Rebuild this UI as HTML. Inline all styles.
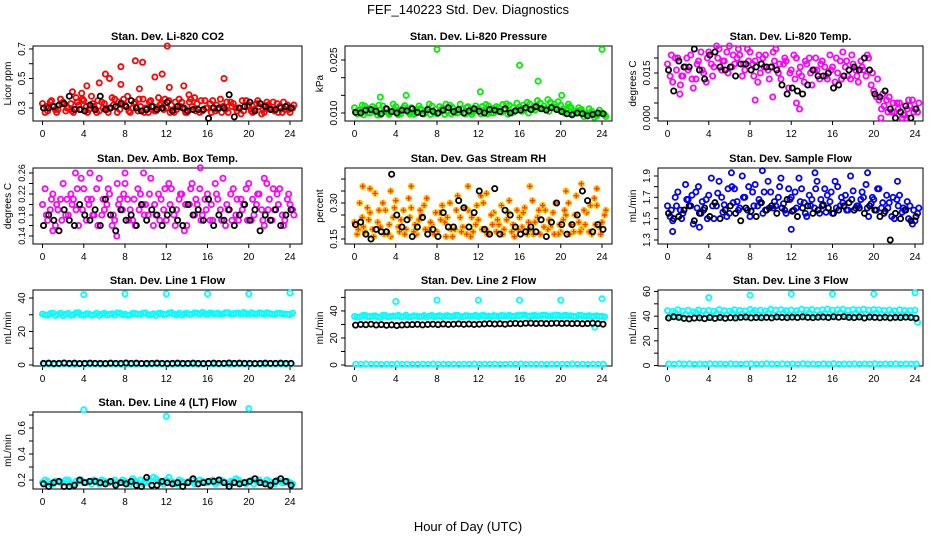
<!DOCTYPE html>
<html><head><meta charset="utf-8"><title>FEF_140223 Std. Dev. Diagnostics</title>
<style>
html,body{margin:0;padding:0;background:#fff;}
svg{display:block;font-family:"Liberation Sans",sans-serif;}
</style></head>
<body>
<svg id="chart" width="936" height="540" viewBox="0 0 936 540" xmlns="http://www.w3.org/2000/svg">
<text x="468" y="14" text-anchor="middle" font-size="13">FEF_140223  Std. Dev. Diagnostics</text>
<text x="468" y="531" text-anchor="middle" font-size="13">Hour of Day (UTC)</text>
</svg>
<script>
const hrs=[0,0.5,1,1.5,2,2.5,3,3.5,4,4.5,5,5.5,6,6.5,7,7.5,8,8.5,9,9.5,10,10.5,11,11.5,12,12.5,13,13.5,14,14.5,15,15.5,16,16.5,17,17.5,18,18.5,19,19.5,20,20.5,21,21.5,22,22.5,23,23.5,24];
const xTicks=[0,4,8,12,16,20,24];
// CO2
const co2A=[0.33,0.28,0.31,0.29,0.34,0.30,0.27,0.32,0.35,0.29,0.31,0.28,0.33,0.30,0.36,0.29,0.32,0.27,0.34,0.31,0.30,0.35,0.28,0.33,0.30,0.32,0.29,0.34,0.27,0.31,0.33,0.28,0.30,0.35,0.29,0.31,0.27,0.33,0.30,0.28,0.32,0.29,0.31,0.27,0.30,0.28,0.31,0.29,0.27];
const co2B=[0.27,0.34,0.29,0.36,0.28,0.33,0.37,0.29,0.31,0.38,0.27,0.34,0.29,0.37,0.27,0.33,0.38,0.30,0.28,0.36,0.27,0.31,0.37,0.29,0.35,0.27,0.36,0.30,0.34,0.37,0.27,0.35,0.33,0.28,0.36,0.29,0.34,0.30,0.26,0.35,0.28,0.33,0.26,0.34,0.29,0.33,0.27,0.32,0.30];
const co2C=[0.31,0.35,0.27,0.33,0.30,0.28,0.34,0.36,0.27,0.33,0.35,0.30,0.27,0.32,0.34,0.36,0.28,0.33,0.36,0.27,0.34,0.28,0.32,0.36,0.27,0.34,0.31,0.27,0.36,0.28,0.35,0.30,0.27,0.32,0.27,0.34,0.31,0.28,0.35,0.31,0.27,0.35,0.29,0.32,0.34,0.27,0.34,0.29,0.32];
const co2OutX=[4.3,5.5,6.1,6.5,7.6,7.6,9.0,9.4,9.7,10.9,11.6,12.1,12.3,13.7,17.6,2.9,3.8,14.2];
const co2OutY=[0.45,0.47,0.53,0.50,0.58,0.46,0.62,0.43,0.61,0.51,0.53,0.72,0.44,0.45,0.50,0.41,0.40,0.39];
const co2K=[0.30,0.30,0.31,0.32,0.33,0.38,0.29,0.29,0.28,0.32,0.29,0.38,0.29,0.30,0.31,0.33,0.31,0.35,0.30,0.28,0.29,0.31,0.29,0.30,0.34,0.28,0.31,0.30,0.28,0.29,0.29,0.29,0.23,0.30,0.30,0.30,0.39,0.24,0.30,0.31,0.34,0.28,0.33,0.31,0.29,0.29,0.30,0.31,0.30];
// Pressure
const prsA=[0.0115,0.0105,0.0120,0.0100,0.0110,0.0095,0.0112,0.0102,0.0118,0.0098,0.0108,0.0115,0.0100,0.0110,0.0105,0.0120,0.0098,0.0112,0.0104,0.0116,0.0100,0.0110,0.0118,0.0103,0.0112,0.0107,0.0120,0.0100,0.0115,0.0108,0.0122,0.0104,0.0117,0.0110,0.0125,0.0108,0.0128,0.0112,0.0130,0.0115,0.0122,0.0108,0.0115,0.0100,0.0110,0.0095,0.0105,0.0092,0.0100];
const prsB=[0.0098,0.0122,0.0100,0.0118,0.0094,0.0120,0.0100,0.0125,0.0095,0.0115,0.0102,0.0096,0.0120,0.0098,0.0125,0.0100,0.0118,0.0096,0.0122,0.0100,0.0125,0.0097,0.0102,0.0120,0.0098,0.0124,0.0100,0.0118,0.0102,0.0126,0.0100,0.0128,0.0105,0.0130,0.0110,0.0135,0.0112,0.0138,0.0118,0.0132,0.0112,0.0125,0.0098,0.0115,0.0090,0.0112,0.0088,0.0108,0.0095];
const prsC=[0.0108,0.0095,0.0112,0.0105,0.0122,0.0104,0.0096,0.0110,0.0106,0.0121,0.0097,0.0108,0.0112,0.0104,0.0096,0.0110,0.0108,0.0125,0.0098,0.0108,0.0112,0.0115,0.0096,0.0110,0.0118,0.0098,0.0112,0.0106,0.0124,0.0097,0.0115,0.0110,0.0122,0.0100,0.0118,0.0115,0.0120,0.0105,0.0125,0.0108,0.0100,0.0118,0.0105,0.0108,0.0098,0.0100,0.0095,0.0100,0.0090];
const prsOutX=[8.0,24.0,16.0,17.8,12.2,2.5,5.0,20.1];
const prsOutY=[0.0280,0.0280,0.0235,0.0190,0.0160,0.0145,0.0150,0.0150];
const prsK=[0.0102,0.0100,0.0108,0.0110,0.0105,0.0098,0.0112,0.0104,0.0100,0.0108,0.0106,0.0112,0.0102,0.0098,0.0110,0.0105,0.0100,0.0108,0.0115,0.0104,0.0110,0.0100,0.0106,0.0112,0.0105,0.0100,0.0110,0.0108,0.0104,0.0112,0.0100,0.0106,0.0108,0.0115,0.0110,0.0118,0.0112,0.0108,0.0115,0.0110,0.0104,0.0098,0.0095,0.0100,0.0098,0.0092,0.0096,0.0100,0.0098];
// Li-820 Temp
const tmpA=[0.018,0.012,0.020,0.014,0.016,0.010,0.019,0.015,0.022,0.017,0.023,0.019,0.024,0.018,0.021,0.016,0.022,0.019,0.015,0.021,0.017,0.023,0.013,0.019,0.016,0.020,0.014,0.018,0.011,0.016,0.019,0.013,0.017,0.015,0.022,0.014,0.018,0.012,0.016,0.020,0.009,0.006,0.004,0.007,0.002,0.005,0.001,0.004,0.003];
const tmpB=[0.014,0.020,0.011,0.017,0.021,0.013,0.022,0.012,0.018,0.024,0.016,0.022,0.017,0.020,0.014,0.023,0.018,0.012,0.020,0.016,0.022,0.015,0.018,0.010,0.021,0.015,0.012,0.020,0.016,0.013,0.017,0.021,0.012,0.019,0.017,0.013,0.016,0.019,0.014,0.011,0.007,0.003,0.006,0.002,0.005,0.000,0.003,0.006,0.002];
const tmpC=[0.021,0.016,0.014,0.020,0.013,0.018,0.016,0.020,0.014,0.020,0.019,0.015,0.021,0.023,0.018,0.019,0.014,0.021,0.017,0.013,0.019,0.018,0.020,0.015,0.013,0.017,0.019,0.015,0.020,0.018,0.014,0.016,0.020,0.013,0.019,0.021,0.014,0.017,0.021,0.015,0.013,0.008,0.002,0.005,0.003,0.001,0.006,0.002,0.005];
const tmpOutX=[1.2,8.5,10.2,12.5,12.8,20.7,23.2];
const tmpOutY=[0.008,0.006,0.007,0.005,0.003,0.000,0.000];
const tmpK=[0.016,0.009,0.019,0.017,0.017,0.023,0.016,0.013,0.021,0.022,0.017,0.016,0.017,0.014,0.018,0.018,0.016,0.017,0.018,0.017,0.017,0.016,0.011,0.008,0.010,0.009,0.008,0.011,0.016,0.014,0.014,0.015,0.010,0.011,0.014,0.016,0.017,0.016,0.020,0.016,0.008,0.007,0.009,0.003,0.000,0.002,0.004,0.000,0.003];
// Amb box temp
const ambA=[0.20,0.17,0.22,0.19,0.24,0.18,0.21,0.16,0.23,0.20,0.18,0.25,0.19,0.22,0.17,0.21,0.24,0.19,0.16,0.22,0.20,0.25,0.18,0.21,0.17,0.23,0.19,0.22,0.16,0.24,0.20,0.18,0.22,0.17,0.21,0.25,0.19,0.23,0.17,0.20,0.24,0.18,0.22,0.16,0.21,0.19,0.23,0.17,0.20];
const ambB=[0.23,0.19,0.16,0.21,0.18,0.22,0.19,0.25,0.17,0.21,0.23,0.18,0.20,0.16,0.24,0.19,0.21,0.17,0.23,0.20,0.18,0.16,0.22,0.19,0.24,0.18,0.21,0.15,0.20,0.18,0.23,0.21,0.17,0.24,0.19,0.16,0.22,0.18,0.21,0.23,0.17,0.20,0.19,0.24,0.17,0.22,0.18,0.21,0.19];
const ambC=[0.18,0.21,0.20,0.17,0.21,0.20,0.23,0.19,0.21,0.18,0.16,0.21,0.23,0.18,0.20,0.22,0.17,0.21,0.19,0.18,0.22,0.20,0.17,0.23,0.20,0.16,0.22,0.20,0.23,0.21,0.17,0.19,0.20,0.22,0.17,0.20,0.17,0.21,0.19,0.17,0.21,0.22,0.17,0.19,0.23,0.20,0.16,0.22,0.18];
const ambOutX=[4.6,8.0,9.8,15.3,7.2,1.0,21.5,3.2];
const ambOutY=[0.26,0.26,0.26,0.27,0.14,0.15,0.25,0.26];
const ambK=[0.16,0.18,0.17,0.15,0.19,0.17,0.16,0.20,0.18,0.17,0.19,0.16,0.21,0.18,0.15,0.19,0.17,0.18,0.16,0.20,0.17,0.19,0.18,0.16,0.18,0.19,0.17,0.16,0.20,0.18,0.19,0.17,0.21,0.16,0.18,0.17,0.19,0.16,0.18,0.20,0.17,0.19,0.15,0.18,0.17,0.19,0.16,0.18,0.19];
// Gas stream RH
const rhA=[0.22,0.30,0.18,0.26,0.34,0.20,0.27,0.16,0.31,0.23,0.19,0.28,0.17,0.25,0.32,0.21,0.18,0.29,0.24,0.16,0.33,0.20,0.27,0.18,0.23,0.30,0.17,0.26,0.21,0.19,0.31,0.16,0.24,0.28,0.19,0.22,0.17,0.27,0.20,0.30,0.18,0.25,0.21,0.33,0.19,0.26,0.17,0.29,0.22];
const rhB=[0.17,0.24,0.28,0.19,0.22,0.30,0.17,0.24,0.20,0.27,0.32,0.18,0.23,0.29,0.19,0.17,0.26,0.22,0.30,0.19,0.24,0.28,0.16,0.21,0.33,0.19,0.25,0.18,0.29,0.23,0.18,0.27,0.20,0.17,0.31,0.24,0.29,0.19,0.26,0.17,0.23,0.30,0.18,0.22,0.27,0.18,0.32,0.20,0.25];
const rhC=[0.19,0.20,0.23,0.16,0.27,0.17,0.21,0.28,0.18,0.17,0.24,0.21,0.27,0.19,0.22,0.26,0.23,0.16,0.19,0.27,0.18,0.17,0.24,0.29,0.19,0.17,0.21,0.23,0.17,0.26,0.21,0.19,0.26,0.22,0.17,0.27,0.20,0.23,0.17,0.21,0.27,0.17,0.25,0.18,0.21,0.29,0.21,0.17,0.27];
const rhOutX=[0.8,1.5,5.5,11.0,17.0,22.0,23.5,3.5,12.8,20.5];
const rhOutY=[0.37,0.36,0.37,0.37,0.37,0.38,0.36,0.35,0.34,0.35];
const rhK=[0.21,0.22,0.17,0.15,0.19,0.18,0.18,0.42,0.25,0.20,0.23,0.16,0.20,0.24,0.17,0.19,0.16,0.26,0.20,0.20,0.31,0.28,0.20,0.26,0.35,0.19,0.17,0.36,0.17,0.27,0.25,0.20,0.17,0.18,0.20,0.18,0.23,0.16,0.22,0.30,0.21,0.17,0.21,0.25,0.35,0.31,0.18,0.21,0.19];
// Sample flow
const sfA=[1.62,1.48,1.75,1.55,1.68,1.45,1.80,1.58,1.72,1.50,1.85,1.63,1.55,1.78,1.60,1.70,1.52,1.82,1.65,1.58,1.75,1.62,1.88,1.55,1.70,1.60,1.78,1.52,1.68,1.85,1.62,1.72,1.55,1.80,1.65,1.58,1.76,1.62,1.70,1.52,1.68,1.78,1.55,1.65,1.50,1.72,1.58,1.62,1.48];
const sfB=[1.52,1.70,1.58,1.82,1.62,1.75,1.55,1.68,1.88,1.62,1.70,1.52,1.80,1.66,1.90,1.58,1.75,1.62,1.55,1.85,1.60,1.70,1.64,1.78,1.58,1.88,1.65,1.72,1.60,1.55,1.78,1.66,1.85,1.62,1.72,1.90,1.60,1.68,1.82,1.64,1.58,1.60,1.72,1.52,1.68,1.56,1.66,1.45,1.55];
const sfC=[1.58,1.62,1.50,1.68,1.72,1.60,1.66,1.50,1.62,1.74,1.56,1.78,1.65,1.58,1.70,1.80,1.62,1.68,1.75,1.60,1.66,1.80,1.58,1.68,1.75,1.66,1.55,1.62,1.78,1.68,1.56,1.75,1.60,1.70,1.58,1.68,1.62,1.75,1.60,1.70,1.78,1.65,1.60,1.70,1.62,1.60,1.50,1.58,1.60];
const sfOutX=[0.5,6.2,9.2,14.3,19.4,22.3,12.0,3.1];
const sfOutY=[1.38,1.93,1.95,1.93,1.93,1.85,1.40,1.42];
const sfK=[1.55,1.50,1.52,1.58,1.62,1.48,1.55,1.60,1.52,1.65,1.50,1.58,1.62,1.55,1.48,1.60,1.57,1.52,1.65,1.58,1.62,1.55,1.60,1.68,1.57,1.52,1.60,1.62,1.55,1.58,1.63,1.60,1.55,1.58,1.62,1.65,1.58,1.60,1.55,1.62,1.58,1.52,1.57,1.30,1.55,1.50,1.58,1.48,1.52];
// Line flows
const l1A=[30.5,29.8,31.0,30.2,29.5,30.8,30.0,31.2,29.7,30.5,30.1,29.6,30.9,30.3,29.8,31.0,30.4,29.9,30.7,30.2,31.1,30.0,29.6,30.8,30.4,31.3,30.1,29.8,31.0,30.5,30.9,31.4,30.2,30.8,31.0,30.5,31.2,30.6,30.9,31.4,30.3,30.7,31.1,30.4,30.8,30.2,31.0,30.5,30.1];
const l1B=[29.9,30.7,29.6,30.9,30.3,29.7,31.1,29.9,30.6,29.8,30.9,30.4,29.9,30.6,31.1,30.0,29.8,30.9,30.3,31.0,29.9,30.6,30.8,30.1,31.0,30.3,30.9,30.6,30.2,31.2,30.4,30.7,31.1,30.5,30.3,31.3,30.4,31.0,30.6,30.7,31.2,30.5,30.9,31.2,30.4,30.9,30.6,30.3,31.0];
const l1Lo=[0.5,0.6,0.4,0.5,0.7,0.5,0.4,0.6,0.5,0.5,0.6,0.4,0.5,0.6,0.5,0.4,0.6,0.5,0.5,0.7,0.4,0.5,0.6,0.5,0.5,0.4,0.6,0.5,0.6,0.5,0.4,0.5,0.6,0.5,0.5,0.6,0.4,0.5,0.6,0.5,0.5,0.6,0.4,0.5,0.6,0.5,0.5,0.4,0.6];
const l1OutX=[4,8,12,16,20,24];
const l1OutY=[42,42.5,42.5,42.5,42.5,43];
const l1K=[1.0,1.1,0.9,1.0,1.2,1.0,1.1,0.9,1.0,1.1,1.0,1.0,0.9,1.1,1.0,1.0,1.2,1.0,1.1,0.9,1.0,1.0,1.1,1.0,0.9,1.0,1.1,1.0,1.0,1.1,1.0,0.9,1.0,1.1,1.0,1.0,1.2,1.0,1.1,1.0,1.0,0.9,1.0,1.1,1.0,1.0,1.1,1.0,1.0];
const l2A=[36.0,35.5,36.8,35.8,36.4,35.2,36.6,35.9,36.2,35.6,36.9,35.7,36.3,36.0,35.4,36.7,36.1,35.8,36.5,36.0,36.8,35.9,36.4,36.2,35.7,36.9,36.3,36.6,35.9,36.4,36.8,36.1,36.5,37.0,36.2,36.7,36.4,36.9,36.3,36.6,36.1,36.8,36.4,36.0,36.6,36.2,35.8,36.4,36.1];
const l2B=[35.4,36.5,35.9,36.2,35.6,36.8,35.5,36.3,36.7,36.0,35.5,36.4,35.8,36.6,36.2,35.7,36.5,36.3,35.9,36.6,35.8,36.5,36.0,36.8,36.4,36.1,35.9,36.2,36.7,36.3,36.0,36.6,36.9,36.3,36.5,36.1,36.8,36.2,36.5,36.9,36.5,36.3,36.0,36.7,36.3,36.5,36.2,36.0,35.6];
const l2Lo=[0.6,0.5,0.7,0.5,0.6,0.4,0.6,0.5,0.7,0.5,0.6,0.5,0.4,0.6,0.5,0.7,0.5,0.6,0.5,0.6,0.4,0.6,0.5,0.7,0.5,0.6,0.5,0.6,0.4,0.5,0.6,0.5,0.7,0.5,0.6,0.5,0.6,0.4,0.6,0.5,0.6,0.5,0.7,0.5,0.6,0.4,0.6,0.5,0.6];
const l2OutX=[4,8,12,16,20,24,23.3];
const l2OutY=[47,48,48,48,48,49,28];
const l2K=[29.5,30.0,29.8,30.2,29.6,29.9,29.4,29.7,29.2,29.6,29.8,29.9,30.1,29.7,30.0,30.2,29.9,30.3,30.0,30.2,30.4,30.1,30.3,30.0,30.2,30.4,30.6,30.3,30.5,30.2,30.6,30.8,30.5,30.9,31.0,30.7,30.9,30.6,30.8,31.0,30.7,30.9,30.6,30.8,30.5,30.7,30.9,30.6,30.2];
const l3A=[44.5,43.8,45.2,44.0,44.8,43.5,45.0,44.2,44.6,43.9,45.3,44.4,44.0,45.1,44.7,44.2,45.4,44.6,44.9,44.3,45.5,44.8,45.2,44.5,45.0,44.4,45.6,44.9,45.3,44.6,45.1,45.7,44.8,45.2,45.5,44.7,45.3,45.0,45.6,44.9,45.3,45.1,44.6,45.0,44.4,45.2,44.7,44.5,44.9];
const l3B=[40.0,42.5,39.6,41.5,40.8,42.8,40.4,41.8,39.8,42.2,40.5,41.2,42.6,40.1,41.9,40.7,42.9,41.3,40.2,42.4,40.9,41.6,42.7,40.6,41.4,42.1,40.8,42.5,41.0,40.6,42.3,41.7,40.9,42.8,41.2,40.5,42.4,41.1,42.0,40.7,42.6,41.5,40.8,42.2,41.0,40.3,42.0,39.2,35.0];
const l3Lo=[1.2,1.0,1.4,1.1,1.3,0.9,1.2,1.0,1.4,1.1,1.2,1.0,1.3,1.1,0.9,1.2,1.3,1.0,1.1,1.4,1.2,1.0,1.3,1.1,1.2,1.0,1.4,1.1,1.2,1.0,1.3,1.1,1.5,1.0,1.2,1.1,1.3,1.0,1.2,1.1,1.4,1.0,1.2,1.1,1.3,1.0,1.2,1.1,1.2];
const l3OutX=[4,8,12,16,20,24];
const l3OutY=[55,57,58,58,58,59];
const l3K=[38.5,39.5,39.0,38.2,37.8,38.4,38.6,38.0,38.8,38.2,38.9,38.3,38.7,38.5,39.0,39.2,38.6,38.9,38.7,39.0,38.6,39.3,39.0,38.8,39.2,38.9,39.4,39.0,38.8,39.1,39.3,38.9,39.5,39.1,39.6,39.0,38.8,39.3,38.5,39.2,39.0,38.7,39.1,38.6,39.0,38.8,39.2,38.9,38.3];
const l4A=[0.18,0.19,0.17,0.19,0.18,0.20,0.17,0.19,0.18,0.19,0.20,0.17,0.19,0.18,0.20,0.18,0.19,0.17,0.19,0.20,0.18,0.19,0.21,0.18,0.20,0.19,0.17,0.19,0.18,0.20,0.17,0.19,0.18,0.20,0.18,0.19,0.17,0.19,0.20,0.18,0.19,0.17,0.20,0.18,0.19,0.17,0.19,0.18,0.18];
const l4B=[0.20,0.17,0.19,0.18,0.20,0.17,0.19,0.20,0.18,0.17,0.19,0.20,0.18,0.19,0.17,0.20,0.18,0.21,0.18,0.17,0.20,0.22,0.19,0.17,0.22,0.18,0.20,0.18,0.19,0.17,0.20,0.18,0.19,0.17,0.20,0.18,0.19,0.21,0.18,0.17,0.20,0.19,0.18,0.20,0.17,0.20,0.18,0.19,0.17];
const l4OutX=[4,12,20];
const l4OutY=[0.74,0.69,0.75];
const l4K=[0.17,0.15,0.18,0.19,0.15,0.15,0.16,0.20,0.18,0.19,0.19,0.18,0.17,0.19,0.16,0.18,0.17,0.19,0.16,0.15,0.22,0.16,0.16,0.19,0.18,0.17,0.18,0.15,0.18,0.21,0.17,0.18,0.19,0.19,0.20,0.18,0.15,0.18,0.17,0.18,0.19,0.21,0.18,0.17,0.16,0.19,0.21,0.19,0.16];

const NS="http://www.w3.org/2000/svg";
const svg=document.getElementById('chart');
function mk(tag,attrs,parent){const e=document.createElementNS(NS,tag);for(const k in attrs)e.setAttribute(k,attrs[k]);(parent||svg).appendChild(e);return e;}
const colL=[33,345,658], colR=[302,612,923];
const rowT=[46,168,290,412], rowB=[121,244,366,489];

function panel(p){
  const l=colL[p.c], r=colR[p.c], t=rowT[p.r], b=rowB[p.r];
  const g=mk('g',{});
  
  
  const xs=h=>l+9.5+h*(247.5/24);
  const ys=v=>b-(v-p.ylo)/(p.yhi-p.ylo)*(b-t);
  const ti=mk('text',{x:(l+r)/2,y:t-6,'text-anchor':'middle','font-size':11,'font-weight':'bold'},g);
  ti.textContent=p.title;
  
  
  const bx=mk('rect',{x:l,y:t,width:r-l,height:b-t,fill:'none',stroke:'#000','stroke-width':1},g);
  
  
  const xa=mk('g',{},g);
  
  
  mk('line',{x1:xs(0),x2:xs(24),y1:b,y2:b,stroke:'#000'},xa);
  xTicks.forEach(h=>{
    mk('line',{x1:xs(h),x2:xs(h),y1:b,y2:b+4,stroke:'#000'},xa);
    const tx=mk('text',{x:xs(h),y:b+16,'text-anchor':'middle','font-size':10},xa);
    tx.textContent=h;
    
    
  });
  const ya=mk('g',{},g);
  
  
  mk('line',{x1:l,x2:l,y1:ys(p.ticks[0]),y2:ys(p.ticks[p.ticks.length-1]),stroke:'#000'},ya);
  p.ticks.forEach(v=>{mk('line',{x1:l-4,x2:l,y1:ys(v),y2:ys(v),stroke:'#000'},ya);});
  p.labels.forEach(v=>{
    const tx=mk('text',{x:l-8,y:ys(v),'text-anchor':'middle','font-size':p.lfs||10,transform:`rotate(-90 ${l-8} ${ys(v)})`},ya);
    tx.textContent=v.toFixed(p.dec);
    
    
  });
  const yt=mk('text',{x:l-22,y:(t+b)/2,'text-anchor':'middle','font-size':10,transform:`rotate(-90 ${l-22} ${(t+b)/2})`},g);
  yt.textContent=p.ylab;
  
  
  p.series.forEach(s=>{
    const sg=mk('g',{},g);
    
    
    s.y.forEach((v,i)=>{
      const cx=xs(s.x[i]+(s.off||0)), cy=ys(v);
      const c=mk('circle',{cx:cx,cy:cy,r:2.6,fill:'none',stroke:s.col,'stroke-width':1.8},sg);
      
      
      if(s.cross){
        const pl=mk('path',{d:`M${cx-2.5} ${cy}h5M${cx} ${cy-2.5}v5`,stroke:s.cross,'stroke-width':1.4},sg);
        
        
      }
    });
  });
}
function sset(color,A,B,C,OX,OY,K,cross){
  const s=[{name:'series-a',x:hrs,y:A,col:color,cross:cross},{name:'series-b',x:hrs,y:B,col:color,off:0.25,cross:cross}];
  if(C)s.push({name:'series-c',x:hrs,y:C,col:color,off:0.37,cross:cross});
  s.push({name:'outliers',x:OX,y:OY,col:color,cross:cross});
  if(K)s.push({name:'black-series',x:hrs,y:K,col:'#000',off:0.1});
  return s;
}
const panels=[
 {name:'co2',title:'Stan. Dev. Li-820 CO2',r:0,c:0,ylo:0.212,yhi:0.72,ticks:[0.3,0.4,0.5,0.6,0.7],labels:[0.3,0.5,0.7],dec:1,ylab:'Licor ppm',series:sset('#ff0000',co2A,co2B,co2C,co2OutX,co2OutY,co2K)},
 {name:'pressure',title:'Stan. Dev. Li-820 Pressure',r:0,c:1,ylo:0.00774,yhi:0.02896,ticks:[0.010,0.015,0.020,0.025],labels:[0.010,0.025],dec:3,ylab:'kPa',series:sset('#00ee00',prsA,prsB,prsC,prsOutX,prsOutY,prsK)},
 {name:'li820-temp',title:'Stan. Dev. Li-820 Temp.',r:0,c:2,ylo:-0.001,yhi:0.024,ticks:[0,0.005,0.010,0.015,0.020],labels:[0,0.015],dec:3,ylab:'degrees C',series:sset('#ff00ff',tmpA,tmpB,tmpC,tmpOutX,tmpOutY,tmpK)},
 {name:'amb-box-temp',title:'Stan. Dev. Amb. Box Temp.',r:1,c:0,ylo:0.1248,yhi:0.2695,ticks:[0.14,0.16,0.18,0.20,0.22,0.24,0.26],labels:[0.14,0.18,0.22,0.26],dec:2,lfs:9,ylab:'degrees C',series:sset('#ff00ff',ambA,ambB,ambC,ambOutX,ambOutY,ambK)},
 {name:'gas-stream-rh',title:'Stan. Dev. Gas Stream RH',r:1,c:1,ylo:0.129,yhi:0.446,ticks:[0.15,0.20,0.25,0.30,0.35,0.40],labels:[0.15,0.30],dec:2,ylab:'percent',series:sset('#ffcc00',rhA,rhB,rhC,rhOutX,rhOutY,rhK,'#ff3300')},
 {name:'sample-flow',title:'Stan. Dev. Sample Flow',r:1,c:2,ylo:1.2625,yhi:1.975,ticks:[1.3,1.4,1.5,1.6,1.7,1.8,1.9],labels:[1.3,1.5,1.7,1.9],dec:1,ylab:'mL/min',series:sset('#0000ff',sfA,sfB,sfC,sfOutX,sfOutY,sfK)},
 {name:'line1-flow',title:'Stan. Dev. Line 1 Flow',r:2,c:0,ylo:-0.6,yhi:44.8,ticks:[0,10,20,30,40],labels:[0,20,40],dec:0,ylab:'mL/min',series:sset('#00ffff',l1A,l1B,null,l1OutX,l1OutY,null).concat([{name:'cyan-low',x:hrs,y:l1Lo,col:'#00ffff',off:0.12},{name:'black-series',x:hrs,y:l1K,col:'#000',off:0.1}])},
 {name:'line2-flow',title:'Stan. Dev. Line 2 Flow',r:2,c:1,ylo:-0.74,yhi:55.5,ticks:[0,10,20,30,40,50],labels:[0,20,40],dec:0,ylab:'mL/min',series:sset('#00ffff',l2A,l2B,null,l2OutX,l2OutY,null).concat([{name:'cyan-low',x:hrs,y:l2Lo,col:'#00ffff',off:0.12},{name:'black-series',x:hrs,y:l2K,col:'#000',off:0.1}])},
 {name:'line3-flow',title:'Stan. Dev. Line 3 Flow',r:2,c:2,ylo:-0.4,yhi:61.2,ticks:[0,10,20,30,40,50,60],labels:[0,20,40,60],dec:0,ylab:'mL/min',series:sset('#00ffff',l3A,l3B,null,l3OutX,l3OutY,null).concat([{name:'cyan-low',x:hrs,y:l3Lo,col:'#00ffff',off:0.12},{name:'black-series',x:hrs,y:l3K,col:'#000',off:0.1}])},
 {name:'line4-flow',title:'Stan. Dev. Line 4 (LT) Flow',r:3,c:0,ylo:0.131,yhi:0.723,ticks:[0.2,0.3,0.4,0.5,0.6,0.7],labels:[0.2,0.4,0.6],dec:1,ylab:'mL/min',series:sset('#00ffff',l4A,l4B,null,l4OutX,l4OutY,l4K)}
];
panels.forEach(panel);
</script>
</body></html>
